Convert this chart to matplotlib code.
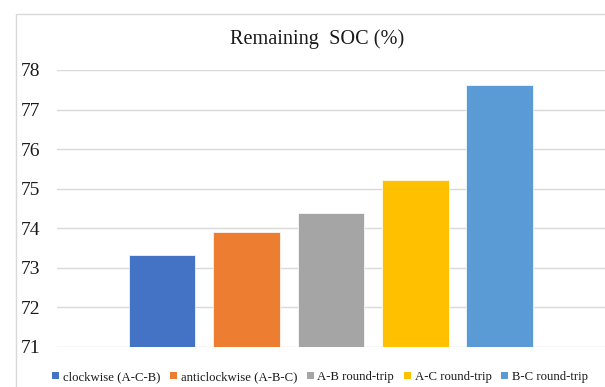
import matplotlib
matplotlib.use("Agg")
import matplotlib.pyplot as plt
from matplotlib.lines import Line2D
from matplotlib.patches import Patch

# Remaining state of charge after each route
routes = ["clockwise (A-C-B)", "anticlockwise (A-B-C)", "A-B round-trip",
          "A-C round-trip", "B-C round-trip"]
soc = [73.32, 73.91, 74.38, 75.22, 77.62]
colors = ["#4472C4", "#ED7D31", "#A5A5A5", "#FFC000", "#5B9BD5"]
yticks = [71, 72, 73, 74, 75, 76, 77, 78]

plt.rcParams["font.family"] = ["Liberation Serif", "DejaVu Serif"]

W, H = 605, 387
fig = plt.figure(figsize=(W / 100, H / 100), dpi=100)

# outer chart frame (left and top edges)
fx, fy = 15.5 / W, 1 - 14 / H
fig.add_artist(Line2D([fx, fx, 1.0], [0.0, fy, fy], transform=fig.transFigure,
                      color="#d9d9d9", linewidth=1.0))

ax = fig.add_axes([56.8 / W, 1 - 346.7 / H, 1 - 56.8 / W, (346.7 - 70) / H])

x = list(range(len(soc)))
ax.bar(x, [v - yticks[0] for v in soc], bottom=yticks[0], width=0.79,
       color=colors, edgecolor="white", linewidth=0.5, zorder=3)

ax.set_xlim(-1.245, 5.245)
ax.set_ylim(yticks[0], yticks[-1])
ax.set_yticks(yticks)
ax.set_yticklabels([str(t) for t in yticks], fontsize=14, color="#1a1a1a")
ax.tick_params(axis="y", length=0, pad=12)
ax.set_xticks([])
ax.grid(axis="y", color="#d9d9d9", linewidth=1.0, zorder=0)
ax.set_axisbelow(True)
for s in ax.spines.values():
    s.set_visible(False)
ax.patch.set_alpha(0)

fig.text(317 / W, 1 - 39 / H, "Remaining  SOC (%)", ha="center", va="center",
         fontsize=14.6, color="#1a1a1a")

handles = [Patch(facecolor=c, edgecolor="none") for c in colors]
fig.legend(handles, routes, loc="center", bbox_to_anchor=(320 / W, 1 - 377 / H),
           ncol=5, frameon=False, fontsize=9.2, handlelength=0.55,
           handleheight=0.55, handletextpad=0.3, columnspacing=0.75,
           borderpad=0, labelcolor="#1a1a1a")

fig.savefig("out.png", dpi=100)
